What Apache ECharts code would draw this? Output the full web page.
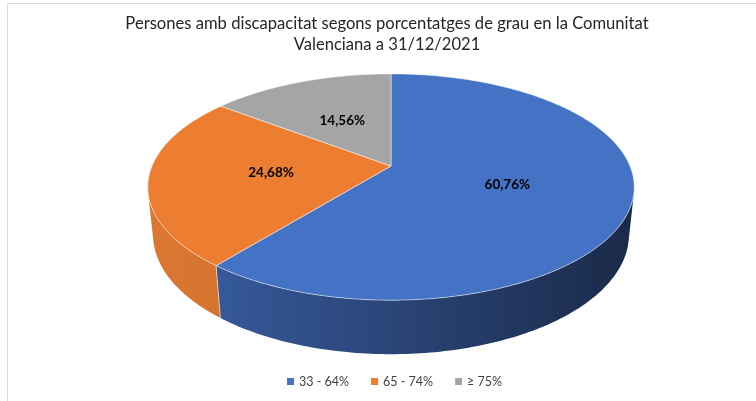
<!DOCTYPE html>
<html>
<head>
<meta charset="utf-8">
<script src="https://cdn.jsdelivr.net/npm/echarts@6/dist/echarts.min.js"></script>
<style>
  html, body { margin: 0; padding: 0; background: #fff; }
  #chart { width: 756px; height: 401px; }
</style>
</head>
<body>
<div id="chart"></div>
<script>
const titleText = 'Persones amb discapacitat segons porcentatges de grau en la Comunitat\nValenciana a 31/12/2021'
const categories = ['33 - 64%', '65 - 74%', '≥ 75%']
const shares = [60.76, 24.68, 14.56]
const topColors = ['#4472c4', '#ed7d31', '#a5a5a5']
const wallColors = [['#3a60a6', '#1a2a49'], ['#db7731', '#b85d23'], ['#8e8e8e', '#6c6c6c']]

// fake 3d pie: perspective view of a flat cylinder
const cx = 391, cy = 166          // apex of the pie on screen
const radiusPx = 239
const tilt = 27.2 * Math.PI / 180
const camDist = 4.785              // in pie radii
const thick = 0.226                // in pie radii
const total = shares.reduce((a, b) => a + b, 0)

function project(alpha, r, t) {
  const a = alpha * Math.PI / 180
  const x = r * Math.sin(a), z = -r * Math.cos(a)
  const se = Math.sin(tilt), ce = Math.cos(tilt)
  const depth = camDist + t * se - z * ce
  const f = radiusPx * camDist / depth
  return [cx + f * x, cy + f * (t * ce + z * se)]
}

function arc(a0, a1, t) {
  const pts = []
  const n = Math.max(2, Math.ceil(Math.abs(a1 - a0)))
  for (let k = 0; k <= n; k++) pts.push(project(a0 + (a1 - a0) * k / n, 1, t))
  return pts
}

// wall is visible where its outward normal faces the camera
const visCos = -1 / (camDist * Math.cos(tilt))
const visFrom = Math.acos(visCos) * 180 / Math.PI
const visTo = 360 - visFrom

const chart = echarts.init(document.getElementById('chart'))

const series = categories.map((name, i) => {
  const before = shares.slice(0, i).reduce((a, b) => a + b, 0)
  const start = before / total * 360
  const end = (before + shares[i]) / total * 360
  return {
    type: 'custom',
    name: name,
    coordinateSystem: 'none',
    itemStyle: { color: topColors[i] },
    data: [shares[i]],
    renderItem: function (params, api) {
      const children = []
      const w0 = Math.max(start, visFrom), w1 = Math.min(end, visTo)
      if (w1 > w0) {
        const pts = arc(w0, w1, 0).concat(arc(w0, w1, thick).reverse())
        const l = project(270, 1, 0)[0], r = project(90, 1, 0)[0]
        children.push({
          type: 'polygon',
          z2: 1,
          shape: { points: pts },
          style: {
            fill: new echarts.graphic.LinearGradient(l, 0, r, 0, [
              { offset: 0, color: wallColors[i][0] },
              { offset: 1, color: wallColors[i][1] }
            ], true)
          }
        })
      }
      if (start >= visFrom && start <= visTo) {
        const p = project(start, 1, 0), q = project(start, 1, thick)
        children.push({
          type: 'line', z2: 2,
          shape: { x1: p[0], y1: p[1], x2: q[0], y2: q[1] },
          style: { stroke: 'rgba(255,255,255,0.55)', lineWidth: 1 }
        })
      }
      const top = [project(0, 0, 0)].concat(arc(start, end, 0))
      children.push({
        type: 'polygon',
        z2: 10,
        shape: { points: top },
        style: { fill: topColors[i], stroke: 'rgba(255,255,255,0.5)', lineWidth: 1, lineJoin: 'round' }
      })
      const lp = project((start + end) / 2, 0.5, 0)
      children.push({
        type: 'text',
        z2: 20,
        x: lp[0], y: lp[1],
        style: {
          text: api.value(0).toFixed(2).replace('.', ',') + '%',
          fill: '#000', fontSize: 13.5, fontWeight: 'bold', fontFamily: 'Lato',
          align: 'center', verticalAlign: 'middle'
        }
      })
      return { type: 'group', children: children }
    }
  }
})

chart.setOption({
  backgroundColor: '#fff',
  animation: false,
  graphic: [
    {
      type: 'rect',
      shape: { x: 7.5, y: 3.5, width: 800, height: 500 },
      style: { fill: 'none', stroke: '#d9d9d9', lineWidth: 1 },
      silent: true
    },
    {
      type: 'text',
      x: 387, y: 13,
      style: {
        text: titleText, fill: '#262626', fontSize: 16.6, fontFamily: 'Lato',
        lineHeight: 21, align: 'center', verticalAlign: 'top'
      }
    }
  ],
  legend: {
    data: categories,
    left: 282,
    bottom: 8,
    icon: 'rect',
    itemWidth: 7,
    itemHeight: 7,
    itemGap: 22,
    textStyle: { fontSize: 12.5, color: '#404040', fontFamily: 'Lato' }
  },
  series: series
})
</script>
</body>
</html>
